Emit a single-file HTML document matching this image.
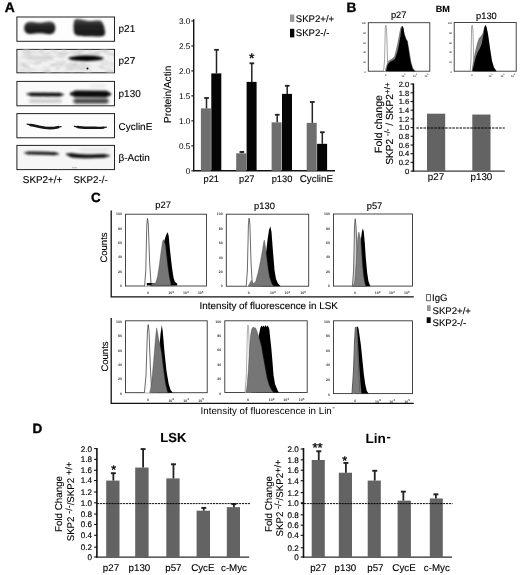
<!DOCTYPE html>
<html lang="en"><head><meta charset="utf-8"><title>Figure</title>
<style>html,body{margin:0;padding:0;background:#fff;}svg{display:block;font-family:'Liberation Sans', sans-serif;filter:blur(0.35px);text-rendering:geometricPrecision;}</style>
</head><body>
<svg width="520" height="575" viewBox="0 0 520 575">
<defs>
<filter id="b1" filterUnits="userSpaceOnUse" x="10" y="10" width="120" height="170"><feGaussianBlur stdDeviation="0.85"/></filter>
<filter id="b2" filterUnits="userSpaceOnUse" x="10" y="10" width="120" height="170"><feGaussianBlur stdDeviation="0.7"/></filter>
<filter id="b4" filterUnits="userSpaceOnUse" x="10" y="10" width="120" height="170"><feGaussianBlur stdDeviation="1.05"/></filter>
<filter id="b3" filterUnits="userSpaceOnUse" x="10" y="10" width="120" height="170"><feGaussianBlur stdDeviation="1.8"/></filter>
<filter id="soft" x="-5%" y="-5%" width="110%" height="110%"><feGaussianBlur stdDeviation="0.35"/></filter>
<linearGradient id="gb" x1="0" y1="0" x2="0" y2="1"><stop offset="0" stop-color="#505050"/><stop offset="0.35" stop-color="#262626"/><stop offset="1" stop-color="#161616"/></linearGradient>
<filter id="noise" x="0" y="0" width="100%" height="100%"><feTurbulence type="fractalNoise" baseFrequency="0.09 0.16" numOctaves="2" seed="7" result="t"/><feColorMatrix in="t" type="matrix" values="0 0 0 0 0.55  0 0 0 0 0.55  0 0 0 0 0.55  0 0 0 -1.6 0.95"/></filter>
</defs>
<rect width="520" height="575" fill="#fff"/>
<text x="4.7" y="11.8" font-size="13.9" text-anchor="start" font-weight="bold" fill="#000" stroke="#000" stroke-width="0.35">A</text>
<rect x="16.9" y="17.0" width="97.6" height="24.299999999999997" fill="#fdfdfd" stroke="#222" stroke-width="1"/>
<rect x="16.9" y="49.4" width="97.6" height="23.4" fill="#f1f1f1" stroke="#222" stroke-width="1"/>
<rect x="16.9" y="81.4" width="97.6" height="24.39999999999999" fill="#fafafa" stroke="#222" stroke-width="1"/>
<rect x="16.9" y="113.6" width="97.6" height="24.200000000000017" fill="#fcfcfc" stroke="#222" stroke-width="1"/>
<rect x="16.9" y="145.4" width="97.6" height="24.19999999999999" fill="#f6f6f6" stroke="#222" stroke-width="1"/>
<g filter="url(#b1)">
<path d="M24.2 28 C24.2 20.8 31 21.2 35 22.2 C38 22.8 42 22.8 45 22 C49 21 55.4 20.6 55.4 28 C55.4 35.2 49 34.6 45 33.8 C42 33.2 38 33.2 35 33.6 C31 34.4 24.2 35 24.2 28 Z" fill="url(#gb)"/>
<path d="M74.2 20.4 C76 17.6 83 19.6 87 20.8 C92 21.6 97 19.6 100.6 20.8 C103.4 22.4 104.4 27 105 31 C105.4 34 104.8 36 102 36.2 C97 36.6 92 36.2 87 36.2 C82 36.2 76.2 36.6 74.4 33.6 C73.2 30 73.2 25 74.2 20.4 Z" fill="url(#gb)"/>
</g>
<rect x="17.4" y="49.9" width="96.6" height="22.2" fill="#ddd" filter="url(#noise)"/>
<g filter="url(#b3)"><rect x="26" y="56" width="28" height="3.4" rx="1.7" fill="#cfcfcf"/><rect x="66" y="66" width="24" height="4" fill="#dadada"/></g>
<g filter="url(#b1)"><ellipse cx="86" cy="58.3" rx="17.6" ry="2.7" fill="#050505"/></g>
<circle cx="87.5" cy="68.5" r="0.95" fill="#111" filter="url(#b2)"/>
<g filter="url(#b3)"><rect x="29" y="99.4" width="33" height="3.2" rx="1.6" fill="#bdbdbd"/><rect x="73.5" y="98.6" width="35" height="5" rx="2" fill="#3c3c3c"/><rect x="90" y="84" width="16" height="4" fill="#ececec"/></g>
<g filter="url(#b1)">
<path d="M27.5 94.2 L63 94.6" fill="none" stroke="#111" stroke-width="1.8" stroke-linecap="round"/>
<path d="M31 94.4 L60 94.6" fill="none" stroke="#111" stroke-width="3.6" stroke-linecap="round"/>
<path d="M71.5 93.9 L109.6 94.1" fill="none" stroke="#070707" stroke-width="3.3" stroke-linecap="round"/>
<path d="M76 93.9 L105.6 94.1" fill="none" stroke="#070707" stroke-width="6.6" stroke-linecap="round"/>
</g>
<g filter="url(#b2)">
<path d="M27.2 124.2 C38 126 44 128.4 50 128.2 C55 128 58 127.2 61 126.6" fill="none" stroke="#141414" stroke-width="1.35" stroke-linecap="round"/>
<path d="M30.5 125 C38 126.2 44 128.4 50 128.2 C53.5 128.1 56 127.6 58 127.2" fill="none" stroke="#141414" stroke-width="2.7" stroke-linecap="round"/>
<path d="M74.4 126.4 C83 128.2 90 127.4 95 127.8 C100 128.2 103 127.8 106.4 127.2" fill="none" stroke="#181818" stroke-width="1.2" stroke-linecap="round"/>
<path d="M77.5 127 C83 128.2 90 127.4 95 127.8 C99 128.1 101 127.9 103.5 127.6" fill="none" stroke="#181818" stroke-width="2.4" stroke-linecap="round"/>
</g>
<g filter="url(#b3)"><rect x="80" y="148.5" width="28" height="3" fill="#e4e4e4"/></g>
<g filter="url(#b4)">
<path d="M25 152.8 C36 153.2 46 153 58.2 153.9" fill="none" stroke="#1c1c1c" stroke-width="1.6" stroke-linecap="round"/>
<path d="M28 153 C36 153.2 46 153 55 153.7" fill="none" stroke="#1c1c1c" stroke-width="3.2" stroke-linecap="round"/>
<path d="M67 154.2 C79 156.8 92 156.6 108.6 155.8" fill="none" stroke="#0c0c0c" stroke-width="1.95" stroke-linecap="round"/>
<path d="M70.5 155 C79 156.8 92 156.6 104.5 155.9" fill="none" stroke="#0c0c0c" stroke-width="3.9" stroke-linecap="round"/>
</g>
<rect x="72" y="167.4" width="5" height="0.8" fill="#aaa"/>
<text x="118.6" y="32.0" font-size="9.95" text-anchor="start" fill="#000"  stroke="#000" stroke-width="0.12">p21</text>
<text x="118.6" y="63.8" font-size="9.95" text-anchor="start" fill="#000"  stroke="#000" stroke-width="0.12">p27</text>
<text x="118.6" y="97.1" font-size="9.95" text-anchor="start" fill="#000"  stroke="#000" stroke-width="0.12">p130</text>
<text x="118.6" y="130.0" font-size="9.95" text-anchor="start" fill="#000"  stroke="#000" stroke-width="0.12">CyclinE</text>
<text x="118.6" y="161.2" font-size="9.95" text-anchor="start" fill="#000"  stroke="#000" stroke-width="0.12">β-Actin</text>
<text x="22.8" y="182.6" font-size="9.9" text-anchor="start" fill="#000"  stroke="#000" stroke-width="0.12">SKP2+/+</text>
<text x="73.4" y="182.6" font-size="9.8" text-anchor="start" fill="#000"  stroke="#000" stroke-width="0.12">SKP2-/-</text>
<path d="M193.7 19.2 V170.8 H335" fill="none" stroke="#111" stroke-width="1.4"/>
<line x1="191.29999999999998" x2="193.7" y1="170.8" y2="170.8" stroke="#111" stroke-width="1.1"/>
<text x="190.3" y="173.70000000000002" font-size="8.2" text-anchor="end" fill="#000" >0</text>
<line x1="191.29999999999998" x2="193.7" y1="145.83" y2="145.83" stroke="#111" stroke-width="1.1"/>
<text x="190.3" y="148.73000000000002" font-size="8.2" text-anchor="end" fill="#000" >0.5</text>
<line x1="191.29999999999998" x2="193.7" y1="120.85" y2="120.85" stroke="#111" stroke-width="1.1"/>
<text x="190.3" y="123.75" font-size="8.2" text-anchor="end" fill="#000" >1.0</text>
<line x1="191.29999999999998" x2="193.7" y1="95.88" y2="95.88" stroke="#111" stroke-width="1.1"/>
<text x="190.3" y="98.78" font-size="8.2" text-anchor="end" fill="#000" >1.5</text>
<line x1="191.29999999999998" x2="193.7" y1="70.9" y2="70.9" stroke="#111" stroke-width="1.1"/>
<text x="190.3" y="73.80000000000001" font-size="8.2" text-anchor="end" fill="#000" >2.0</text>
<line x1="191.29999999999998" x2="193.7" y1="45.93" y2="45.93" stroke="#111" stroke-width="1.1"/>
<text x="190.3" y="48.83" font-size="8.2" text-anchor="end" fill="#000" >2.5</text>
<line x1="191.29999999999998" x2="193.7" y1="20.95" y2="20.95" stroke="#111" stroke-width="1.1"/>
<text x="190.3" y="23.849999999999998" font-size="8.2" text-anchor="end" fill="#000" >3.0</text>
<rect x="200.9" y="108.36" width="10" height="62.44" fill="#6e6e6e"/>
<rect x="211.3" y="73.4" width="10" height="97.4" fill="#050505"/>
<path d="M206.5 108.36 V97.62" stroke="#222" stroke-width="1.5" fill="none"/>
<path d="M204.2 98.02 H208.9" stroke="#222" stroke-width="1.8" fill="none"/>
<path d="M216.5 73.4 V49.42" stroke="#222" stroke-width="1.5" fill="none"/>
<path d="M214.2 49.82 H218.9" stroke="#222" stroke-width="1.8" fill="none"/>
<rect x="236.2" y="153.32" width="10" height="17.48" fill="#6e6e6e"/>
<rect x="246.6" y="81.89" width="10" height="88.91" fill="#050505"/>
<path d="M241.8 153.32 V151.57" stroke="#222" stroke-width="1.5" fill="none"/>
<path d="M239.5 151.97 H244.2" stroke="#222" stroke-width="1.8" fill="none"/>
<path d="M251.8 81.89 V62.91" stroke="#222" stroke-width="1.5" fill="none"/>
<path d="M249.5 63.31 H254.2" stroke="#222" stroke-width="1.8" fill="none"/>
<rect x="271.6" y="122.35" width="10" height="48.45" fill="#6e6e6e"/>
<rect x="282.0" y="93.88" width="10" height="76.92" fill="#050505"/>
<path d="M277.2 122.35 V114.36" stroke="#222" stroke-width="1.5" fill="none"/>
<path d="M274.9 114.76 H279.6" stroke="#222" stroke-width="1.8" fill="none"/>
<path d="M287.2 93.88 V85.39" stroke="#222" stroke-width="1.5" fill="none"/>
<path d="M284.9 85.79 H289.6" stroke="#222" stroke-width="1.8" fill="none"/>
<rect x="306.7" y="122.85" width="10" height="47.95" fill="#6e6e6e"/>
<rect x="317.09999999999997" y="143.83" width="10" height="26.97" fill="#050505"/>
<path d="M312.3 122.85 V101.62" stroke="#222" stroke-width="1.5" fill="none"/>
<path d="M310.0 102.02 H314.7" stroke="#222" stroke-width="1.8" fill="none"/>
<path d="M322.3 143.83 V131.84" stroke="#222" stroke-width="1.5" fill="none"/>
<path d="M320.0 132.24 H324.7" stroke="#222" stroke-width="1.8" fill="none"/>
<text x="211.3" y="182.3" font-size="9.3" text-anchor="middle" fill="#000"  stroke="#000" stroke-width="0.12">p21</text>
<text x="246.8" y="182.3" font-size="9.3" text-anchor="middle" fill="#000"  stroke="#000" stroke-width="0.12">p27</text>
<text x="282" y="182.3" font-size="9.3" text-anchor="middle" fill="#000"  stroke="#000" stroke-width="0.12">p130</text>
<text x="316.4" y="181.6" font-size="9.8" text-anchor="middle" fill="#000"  stroke="#000" stroke-width="0.12">CyclinE</text>
<text x="251.8" y="63.4" font-size="14" text-anchor="middle" fill="#000" stroke="#000" stroke-width="0.4">*</text>
<text x="171.4" y="94.3" font-size="10.1" text-anchor="middle" transform="rotate(-90 171.4 94.3)" fill="#000"  stroke="#000" stroke-width="0.12">Protein/Actin</text>
<rect x="290" y="14.5" width="4.3" height="7.4" fill="#999"/>
<rect x="290" y="28.8" width="4.3" height="8.6" fill="#050505"/>
<text x="295.8" y="21.7" font-size="9.6" text-anchor="start" fill="#000"  stroke="#000" stroke-width="0.12">SKP2+/+</text>
<text x="295.8" y="36.3" font-size="9.6" text-anchor="start" fill="#000"  stroke="#000" stroke-width="0.12">SKP2-/-</text>
<text x="346.4" y="12.1" font-size="13.6" text-anchor="start" font-weight="bold" fill="#000" stroke="#000" stroke-width="0.35">B</text>
<text x="435.8" y="11.9" font-size="9.1" text-anchor="start" font-weight="bold" fill="#000"  stroke="#000" stroke-width="0.12">BM</text>
<text x="398.7" y="18.1" font-size="9.3" text-anchor="middle" fill="#000"  stroke="#000" stroke-width="0.12">p27</text>
<text x="486.4" y="19.0" font-size="9.3" text-anchor="middle" fill="#000"  stroke="#000" stroke-width="0.12">p130</text>
<rect x="368.3" y="22.7" width="61.5" height="48.5" fill="#fff" stroke="#333" stroke-width="0.9"/>
<text x="365.90000000000003" y="72.8" font-size="2.4" text-anchor="end" font-weight="bold" fill="#333" >0</text>
<text x="365.90000000000003" y="63.1" font-size="2.4" text-anchor="end" font-weight="bold" fill="#333" >20</text>
<text x="365.90000000000003" y="53.4" font-size="2.4" text-anchor="end" font-weight="bold" fill="#333" >40</text>
<text x="365.90000000000003" y="43.7" font-size="2.4" text-anchor="end" font-weight="bold" fill="#333" >60</text>
<text x="365.90000000000003" y="34.0" font-size="2.4" text-anchor="end" font-weight="bold" fill="#333" >80</text>
<text x="365.90000000000003" y="24.3" font-size="2.4" text-anchor="end" font-weight="bold" fill="#333" >100</text>
<text x="385.6" y="76.2" font-size="2.4" text-anchor="middle" font-weight="bold" fill="#333" >0</text>
<text x="403.5" y="76.8" font-size="2.4" font-weight="bold" text-anchor="middle" fill="#333">10<tspan dy="-1.5" font-size="2.04">3</tspan></text>
<text x="415" y="76.8" font-size="2.4" font-weight="bold" text-anchor="middle" fill="#333">10<tspan dy="-1.5" font-size="2.04">4</tspan></text>
<text x="426.5" y="76.8" font-size="2.4" font-weight="bold" text-anchor="middle" fill="#333">10<tspan dy="-1.5" font-size="2.04">5</tspan></text>
<g filter="url(#soft)">
<path d="M383.6 71.2 L384.6 60 L385.3 27 L385.9 25.2 L386.6 30 L387.6 62 L388.6 71.2" fill="#fff" stroke="#858585" stroke-width="0.75"/>
<path d="M385.0 71.2 L385.6 68 L386.9 64 L388.5 60.8 L391.8 58.8 L394.2 56.7 L395.9 50.1 L397.2 44.4 L398.8 36.2 L400.4 28.1 L401.6 26.1 L402.6 26 L404.4 33 L406.4 39 L407.8 41 L409.3 50 L411.3 62 L413.3 68.5 L415.5 71.2 Z" fill="#7c7c7c"/>
<path d="M386.0 71.2 L386.6 69 L387.7 64.4 L390.1 61.8 L393 60.2 L395 58.8 L397.2 52.6 L398.3 47.7 L399.5 41.2 L400.4 36.2 L401.3 28.4 L402.4 26.1 L403.5 28.1 L404.4 34.6 L406 39.2 L407.3 41.2 L408.4 47.7 L409.8 57.5 L410.9 63.2 L412.5 68.6 L414.7 70.8 L416 71.2 Z" fill="#050505"/>
</g>
<rect x="454.2" y="22.5" width="62.0" height="48.7" fill="#fff" stroke="#333" stroke-width="0.9"/>
<text x="451.8" y="72.8" font-size="2.4" text-anchor="end" font-weight="bold" fill="#333" >0</text>
<text x="451.8" y="63.06" font-size="2.4" text-anchor="end" font-weight="bold" fill="#333" >20</text>
<text x="451.8" y="53.32" font-size="2.4" text-anchor="end" font-weight="bold" fill="#333" >40</text>
<text x="451.8" y="43.58" font-size="2.4" text-anchor="end" font-weight="bold" fill="#333" >60</text>
<text x="451.8" y="33.84" font-size="2.4" text-anchor="end" font-weight="bold" fill="#333" >80</text>
<text x="451.8" y="24.1" font-size="2.4" text-anchor="end" font-weight="bold" fill="#333" >100</text>
<text x="472" y="76.2" font-size="2.4" text-anchor="middle" font-weight="bold" fill="#333" >0</text>
<text x="490.5" y="76.8" font-size="2.4" font-weight="bold" text-anchor="middle" fill="#333">10<tspan dy="-1.5" font-size="2.04">3</tspan></text>
<text x="502.5" y="76.8" font-size="2.4" font-weight="bold" text-anchor="middle" fill="#333">10<tspan dy="-1.5" font-size="2.04">4</tspan></text>
<text x="513" y="76.8" font-size="2.4" font-weight="bold" text-anchor="middle" fill="#333">10<tspan dy="-1.5" font-size="2.04">5</tspan></text>
<g filter="url(#soft)">
<path d="M470.2 71.2 L471 60 L471.6 27 L472.2 25.2 L472.9 30 L473.8 62 L474.6 71.2" fill="#fff" stroke="#858585" stroke-width="0.75"/>
<path d="M471.6 71.2 L473 62 L475 52 L477 43.5 L478.7 38.5 L480.5 36.5 L482.5 33.7 L484 28 L485.4 25 L487 30 L489 44 L491 58 L493 66 L496 71.2 Z" fill="#787878"/>
<path d="M472.4 71.2 L474 64 L476 56.5 L477.7 52 L479.5 49 L481.5 44.5 L483.2 36 L484.4 27.5 L485.4 25 L486.6 27 L488 34 L490 48 L492 61 L494 67.5 L496.6 71.2 Z" fill="#050505"/>
</g>
<path d="M412.59999999999997 171.1 H504.8" fill="none" stroke="#3a3a3a" stroke-width="1.1"/>
<path d="M413.4 83.4 V171.6" fill="none" stroke="#111" stroke-width="1.6"/>
<line x1="410.59999999999997" x2="413.4" y1="171.1" y2="171.1" stroke="#111" stroke-width="1.1"/>
<text x="409.2" y="173.79999999999998" font-size="7.6" text-anchor="end" fill="#000" stroke="#000" stroke-width="0.15">0</text>
<line x1="410.59999999999997" x2="413.4" y1="162.4" y2="162.4" stroke="#111" stroke-width="1.1"/>
<text x="409.2" y="165.1" font-size="7.6" text-anchor="end" fill="#000" stroke="#000" stroke-width="0.15">0.2</text>
<line x1="410.59999999999997" x2="413.4" y1="153.7" y2="153.7" stroke="#111" stroke-width="1.1"/>
<text x="409.2" y="156.39999999999998" font-size="7.6" text-anchor="end" fill="#000" stroke="#000" stroke-width="0.15">0.4</text>
<line x1="410.59999999999997" x2="413.4" y1="145.0" y2="145.0" stroke="#111" stroke-width="1.1"/>
<text x="409.2" y="147.7" font-size="7.6" text-anchor="end" fill="#000" stroke="#000" stroke-width="0.15">0.6</text>
<line x1="410.59999999999997" x2="413.4" y1="136.3" y2="136.3" stroke="#111" stroke-width="1.1"/>
<text x="409.2" y="139.0" font-size="7.6" text-anchor="end" fill="#000" stroke="#000" stroke-width="0.15">0.8</text>
<line x1="410.59999999999997" x2="413.4" y1="127.6" y2="127.6" stroke="#111" stroke-width="1.1"/>
<text x="409.2" y="130.29999999999998" font-size="7.6" text-anchor="end" fill="#000" stroke="#000" stroke-width="0.15">1.0</text>
<line x1="410.59999999999997" x2="413.4" y1="118.9" y2="118.9" stroke="#111" stroke-width="1.1"/>
<text x="409.2" y="121.60000000000001" font-size="7.6" text-anchor="end" fill="#000" stroke="#000" stroke-width="0.15">1.2</text>
<line x1="410.59999999999997" x2="413.4" y1="110.2" y2="110.2" stroke="#111" stroke-width="1.1"/>
<text x="409.2" y="112.9" font-size="7.6" text-anchor="end" fill="#000" stroke="#000" stroke-width="0.15">1.4</text>
<line x1="410.59999999999997" x2="413.4" y1="101.5" y2="101.5" stroke="#111" stroke-width="1.1"/>
<text x="409.2" y="104.2" font-size="7.6" text-anchor="end" fill="#000" stroke="#000" stroke-width="0.15">1.6</text>
<line x1="410.59999999999997" x2="413.4" y1="92.8" y2="92.8" stroke="#111" stroke-width="1.1"/>
<text x="409.2" y="95.5" font-size="7.6" text-anchor="end" fill="#000" stroke="#000" stroke-width="0.15">1.8</text>
<line x1="410.59999999999997" x2="413.4" y1="84.1" y2="84.1" stroke="#111" stroke-width="1.1"/>
<text x="409.2" y="86.8" font-size="7.6" text-anchor="end" fill="#000" stroke="#000" stroke-width="0.15">2.0</text>
<rect x="427" y="113.68" width="18.2" height="57.42" fill="#636363"/>
<rect x="472.3" y="114.55" width="18.2" height="56.55" fill="#636363"/>
<line x1="416.3" x2="504.8" y1="128.0" y2="128.0" stroke="#000" stroke-width="1.1" stroke-dasharray="2.6 1"/>
<text x="436" y="180.0" font-size="9.8" text-anchor="middle" fill="#000"  stroke="#000" stroke-width="0.12">p27</text>
<text x="481.4" y="180.0" font-size="9.8" text-anchor="middle" fill="#000"  stroke="#000" stroke-width="0.12">p130</text>
<text x="382.3" y="124" font-size="10.5" text-anchor="middle" transform="rotate(-90 382.3 124)" fill="#000"  stroke="#000" stroke-width="0.12">Fold change</text>
<text x="393.2" y="123.6" font-size="10.2" text-anchor="middle" transform="rotate(-90 393.2 123.6)" fill="#000" stroke="#000" stroke-width="0.12">SKP2 <tspan dy="-3.2" font-size="7.8">-/-</tspan><tspan dy="3.2"> / SKP2</tspan><tspan dy="-3.2" font-size="8">+/+</tspan></text>
<text x="90.9" y="202.0" font-size="13.4" text-anchor="start" font-weight="bold" fill="#000" stroke="#000" stroke-width="0.35">C</text>
<text x="163.1" y="208.0" font-size="9.4" text-anchor="middle" fill="#000"  stroke="#000" stroke-width="0.12">p27</text>
<text x="264.5" y="208.5" font-size="9.4" text-anchor="middle" fill="#000"  stroke="#000" stroke-width="0.12">p130</text>
<text x="374.5" y="208.6" font-size="9.3" text-anchor="middle" fill="#000"  stroke="#000" stroke-width="0.12">p57</text>
<path d="M111.2 210.5 V296.8 H413.8" fill="none" stroke="#111" stroke-width="1.3"/>
<path d="M111.2 318 V403.3 H413.8" fill="none" stroke="#111" stroke-width="1.3"/>
<text x="107.2" y="247.5" font-size="9.5" text-anchor="middle" transform="rotate(-90 107.2 247.5)" fill="#000"  stroke="#000" stroke-width="0.12">Counts</text>
<text x="108.3" y="356.5" font-size="9.5" text-anchor="middle" transform="rotate(-90 108.3 356.5)" fill="#000"  stroke="#000" stroke-width="0.12">Counts</text>
<text x="199.6" y="308.6" font-size="9.9" text-anchor="start" fill="#000"  stroke="#000" stroke-width="0.12">Intensity of fluorescence in LSK</text>
<text x="200.6" y="413.8" font-size="9.75" fill="#000">Intensity of fluorescence in Lin<tspan dy="-3.4" dx="0.4" font-size="8">-</tspan></text>
<rect x="125.5" y="214.2" width="81.0" height="71.8" fill="#fff" stroke="#333" stroke-width="0.9"/>
<text x="121.9" y="287.1" font-size="3.5" text-anchor="end" font-weight="bold" fill="#333" >0</text>
<text x="121.9" y="272.74" font-size="3.5" text-anchor="end" font-weight="bold" fill="#333" >20</text>
<text x="121.9" y="258.38" font-size="3.5" text-anchor="end" font-weight="bold" fill="#333" >40</text>
<text x="121.9" y="244.02" font-size="3.5" text-anchor="end" font-weight="bold" fill="#333" >60</text>
<text x="121.9" y="229.66" font-size="3.5" text-anchor="end" font-weight="bold" fill="#333" >80</text>
<text x="121.9" y="215.3" font-size="3.5" text-anchor="end" font-weight="bold" fill="#333" >100</text>
<text x="148" y="293.6" font-size="3.5" text-anchor="middle" font-weight="bold" fill="#333" >0</text>
<text x="171.0" y="294.2" font-size="3.5" font-weight="bold" text-anchor="middle" fill="#333">10<tspan dy="-1.5" font-size="2.98">3</tspan></text>
<text x="185.8" y="294.2" font-size="3.5" font-weight="bold" text-anchor="middle" fill="#333">10<tspan dy="-1.5" font-size="2.98">4</tspan></text>
<text x="200.7" y="294.2" font-size="3.5" font-weight="bold" text-anchor="middle" fill="#333">10<tspan dy="-1.5" font-size="2.98">5</tspan></text>
<rect x="226.3" y="214.2" width="82.4" height="72.0" fill="#fff" stroke="#333" stroke-width="0.9"/>
<text x="222.70000000000002" y="287.3" font-size="3.5" text-anchor="end" font-weight="bold" fill="#333" >0</text>
<text x="222.70000000000002" y="272.9" font-size="3.5" text-anchor="end" font-weight="bold" fill="#333" >20</text>
<text x="222.70000000000002" y="258.5" font-size="3.5" text-anchor="end" font-weight="bold" fill="#333" >40</text>
<text x="222.70000000000002" y="244.1" font-size="3.5" text-anchor="end" font-weight="bold" fill="#333" >60</text>
<text x="222.70000000000002" y="229.7" font-size="3.5" text-anchor="end" font-weight="bold" fill="#333" >80</text>
<text x="222.70000000000002" y="215.3" font-size="3.5" text-anchor="end" font-weight="bold" fill="#333" >100</text>
<text x="248.8" y="293.8" font-size="3.5" text-anchor="middle" font-weight="bold" fill="#333" >0</text>
<text x="272.8" y="294.4" font-size="3.5" font-weight="bold" text-anchor="middle" fill="#333">10<tspan dy="-1.5" font-size="2.98">3</tspan></text>
<text x="287.3" y="294.4" font-size="3.5" font-weight="bold" text-anchor="middle" fill="#333">10<tspan dy="-1.5" font-size="2.98">4</tspan></text>
<text x="303" y="294.4" font-size="3.5" font-weight="bold" text-anchor="middle" fill="#333">10<tspan dy="-1.5" font-size="2.98">5</tspan></text>
<rect x="333.5" y="214.0" width="79.0" height="72.1" fill="#fff" stroke="#333" stroke-width="0.9"/>
<text x="329.9" y="287.2" font-size="3.5" text-anchor="end" font-weight="bold" fill="#333" >0</text>
<text x="329.9" y="272.78" font-size="3.5" text-anchor="end" font-weight="bold" fill="#333" >20</text>
<text x="329.9" y="258.36" font-size="3.5" text-anchor="end" font-weight="bold" fill="#333" >40</text>
<text x="329.9" y="243.94" font-size="3.5" text-anchor="end" font-weight="bold" fill="#333" >60</text>
<text x="329.9" y="229.52" font-size="3.5" text-anchor="end" font-weight="bold" fill="#333" >80</text>
<text x="329.9" y="215.1" font-size="3.5" text-anchor="end" font-weight="bold" fill="#333" >100</text>
<text x="355" y="293.7" font-size="3.5" text-anchor="middle" font-weight="bold" fill="#333" >0</text>
<text x="377.5" y="294.3" font-size="3.5" font-weight="bold" text-anchor="middle" fill="#333">10<tspan dy="-1.5" font-size="2.98">3</tspan></text>
<text x="391.8" y="294.3" font-size="3.5" font-weight="bold" text-anchor="middle" fill="#333">10<tspan dy="-1.5" font-size="2.98">4</tspan></text>
<text x="406.8" y="294.3" font-size="3.5" font-weight="bold" text-anchor="middle" fill="#333">10<tspan dy="-1.5" font-size="2.98">5</tspan></text>
<rect x="125.5" y="320.8" width="81.7" height="71.9" fill="#fff" stroke="#333" stroke-width="0.9"/>
<text x="121.9" y="394.7" font-size="3.5" text-anchor="end" font-weight="bold" fill="#333" >0</text>
<text x="121.9" y="380.32" font-size="3.5" text-anchor="end" font-weight="bold" fill="#333" >20</text>
<text x="121.9" y="365.94" font-size="3.5" text-anchor="end" font-weight="bold" fill="#333" >40</text>
<text x="121.9" y="351.56" font-size="3.5" text-anchor="end" font-weight="bold" fill="#333" >60</text>
<text x="121.9" y="337.18" font-size="3.5" text-anchor="end" font-weight="bold" fill="#333" >80</text>
<text x="121.9" y="322.8" font-size="3.5" text-anchor="end" font-weight="bold" fill="#333" >100</text>
<text x="148" y="401.02" font-size="3.5" text-anchor="middle" font-weight="bold" fill="#333" >0</text>
<text x="171.2" y="401.62" font-size="3.5" font-weight="bold" text-anchor="middle" fill="#333">10<tspan dy="-1.5" font-size="2.98">3</tspan></text>
<text x="186.0" y="401.62" font-size="3.5" font-weight="bold" text-anchor="middle" fill="#333">10<tspan dy="-1.5" font-size="2.98">4</tspan></text>
<text x="201.0" y="401.62" font-size="3.5" font-weight="bold" text-anchor="middle" fill="#333">10<tspan dy="-1.5" font-size="2.98">5</tspan></text>
<rect x="224.8" y="320.8" width="82.4" height="71.7" fill="#fff" stroke="#333" stroke-width="0.9"/>
<text x="221.20000000000002" y="394.5" font-size="3.5" text-anchor="end" font-weight="bold" fill="#333" >0</text>
<text x="221.20000000000002" y="380.16" font-size="3.5" text-anchor="end" font-weight="bold" fill="#333" >20</text>
<text x="221.20000000000002" y="365.82" font-size="3.5" text-anchor="end" font-weight="bold" fill="#333" >40</text>
<text x="221.20000000000002" y="351.48" font-size="3.5" text-anchor="end" font-weight="bold" fill="#333" >60</text>
<text x="221.20000000000002" y="337.14" font-size="3.5" text-anchor="end" font-weight="bold" fill="#333" >80</text>
<text x="221.20000000000002" y="322.8" font-size="3.5" text-anchor="end" font-weight="bold" fill="#333" >100</text>
<text x="248" y="400.82" font-size="3.5" text-anchor="middle" font-weight="bold" fill="#333" >0</text>
<text x="271.6" y="401.42" font-size="3.5" font-weight="bold" text-anchor="middle" fill="#333">10<tspan dy="-1.5" font-size="2.98">3</tspan></text>
<text x="286" y="401.42" font-size="3.5" font-weight="bold" text-anchor="middle" fill="#333">10<tspan dy="-1.5" font-size="2.98">4</tspan></text>
<text x="301.5" y="401.42" font-size="3.5" font-weight="bold" text-anchor="middle" fill="#333">10<tspan dy="-1.5" font-size="2.98">5</tspan></text>
<rect x="333.5" y="320.8" width="79.0" height="72.8" fill="#fff" stroke="#333" stroke-width="0.9"/>
<text x="329.9" y="395.6" font-size="3.5" text-anchor="end" font-weight="bold" fill="#333" >0</text>
<text x="329.9" y="381.04" font-size="3.5" text-anchor="end" font-weight="bold" fill="#333" >20</text>
<text x="329.9" y="366.48" font-size="3.5" text-anchor="end" font-weight="bold" fill="#333" >40</text>
<text x="329.9" y="351.92" font-size="3.5" text-anchor="end" font-weight="bold" fill="#333" >60</text>
<text x="329.9" y="337.36" font-size="3.5" text-anchor="end" font-weight="bold" fill="#333" >80</text>
<text x="329.9" y="322.8" font-size="3.5" text-anchor="end" font-weight="bold" fill="#333" >100</text>
<text x="355.3" y="401.92" font-size="3.5" text-anchor="middle" font-weight="bold" fill="#333" >0</text>
<text x="377.8" y="402.52" font-size="3.5" font-weight="bold" text-anchor="middle" fill="#333">10<tspan dy="-1.5" font-size="2.98">3</tspan></text>
<text x="392.0" y="402.52" font-size="3.5" font-weight="bold" text-anchor="middle" fill="#333">10<tspan dy="-1.5" font-size="2.98">4</tspan></text>
<text x="407.0" y="402.52" font-size="3.5" font-weight="bold" text-anchor="middle" fill="#333">10<tspan dy="-1.5" font-size="2.98">5</tspan></text>
<g filter="url(#soft)">
<path d="M144.6 286.2 L145.8 270 L146.8 225 L147.5 218.4 L148.3 224 L149.6 262 L151.2 286.2" fill="#fff" stroke="#2a2a2a" stroke-width="0.7"/>
<path d="M146.8 285.6 V283 H151.5 L156 283.4 L160 270 L162.5 250 L164.5 240 L166.3 234.5 L167.8 232.2 L168.7 236 L169.8 248 L171 259 L172.2 269 L173.6 278 L175 282 L177.2 283.4 V285.6 Z" fill="#050505"/>
<path d="M151.6 285.4 V283.6 L155.6 283.2 L157.5 277 L159.2 266 L161 252 L162.4 243 L163.2 239.6 L164.4 242 L165.4 245 L166.6 256 L168 268 L169.3 277 L170.6 283 L171 285.4 Z" fill="#767676" stroke="#333" stroke-width="0.35"/>
<path d="M246.2 286.2 L247.4 270 L248.4 225 L249.1 218.2 L249.9 224 L251 262 L252.4 286.2" fill="#fff" stroke="#2a2a2a" stroke-width="0.7"/>
<path d="M262 286.2 L265 262 L267.5 240 L269 230 L270.3 226.2 L271.5 232 L273 252 L274.5 270 L276 279 L278 283.6 L280.5 286.2 Z" fill="#050505"/>
<path d="M248 286.2 L249.5 284 L251.3 280.4 L253 283.5 L255.5 282 L258 273 L260.5 261 L262.5 250 L263.7 242 L264.4 240.2 L265.3 246 L266.5 256 L268 268 L269.5 277 L271.5 283 L273.5 286.2 Z" fill="#767676" stroke="#333" stroke-width="0.35"/>
<path d="M352.4 286.2 L353.6 270 L354.5 226 L355.2 218.8 L356 226 L357 250 L358 286.2 Z" fill="#d4d4d4" stroke="#333" stroke-width="0.7"/>
<path d="M358 286.2 L359.5 262 L360.8 240 L362 231 L362.9 228.4 L363.8 232 L364.8 243 L365.8 258 L367.2 273 L368.4 281 L369.8 285 L370.4 286.2 Z" fill="#050505"/>
<path d="M353.4 286.2 L354.8 281 L356.2 262 L357.4 242 L358.3 234 L358.9 232 L359.8 236 L360.8 240 L361.6 252 L362.4 264 L363.4 275 L364.6 282 L365.6 286.2 Z" fill="#7e7e7e" stroke="#333" stroke-width="0.35"/>
<path d="M144.4 392.7 L146 376 L147.4 332 L148.2 324.6 L149 331 L150.4 368 L151.8 392.7" fill="#fff" stroke="#2a2a2a" stroke-width="0.7"/>
<path d="M157 392.7 L159 352 L160.5 334 L161.8 325 L162.8 332 L164.5 352 L166.5 371 L168.7 384 L170.6 390 L173 392.7 Z" fill="#050505"/>
<path d="M149.7 392.7 L151.5 384 L153.5 362 L155 344 L156 333 L156.7 327.8 L157.6 333 L158.6 339 L160 345 L161.5 353 L163.5 370 L165.5 384 L167.7 392.7 Z" fill="#767676" stroke="#333" stroke-width="0.35"/>
<path d="M245 392.5 L246.3 376 L247.4 332 L248 325 L248.7 331 L249.6 360 L250.8 392.5" fill="#fff" stroke="#8c8c8c" stroke-width="0.7"/>
<path d="M256 392.5 L258 340 L260.3 328 L261.5 325.6 L262.5 327 L263.5 325.4 L264.5 327 L265.5 325 L266.5 327 L267.5 325.6 L268.5 327 L269.3 329 L270.2 338 L271.3 348 L272.5 362 L273.5 375 L275 384 L277.7 390.4 L279 392.5 Z" fill="#050505"/>
<path d="M246 392.5 L247 386 L248.2 372 L249.3 352 L250.5 336 L251.6 329.5 L252.6 327.6 L253.6 327 L254.6 328.2 L255.6 327.8 L256.8 331 L258.2 335 L260 341 L261.5 347 L263 356 L265 367 L267 378 L269.2 385.6 L271.5 390 L273.5 392.5 Z" fill="#767676" stroke="#333" stroke-width="0.35"/>
<path d="M355.4 393.6 L356 340 L356.6 327.2 L357.8 326.4 L358.6 329 L359.6 336 L360.9 345 L362.2 358 L363.8 374 L365.2 384 L366.8 391 L368.6 393.6 Z" fill="#050505"/>
<path d="M352.2 393.6 L353.6 372 L354.8 340 L355.5 327.4 L356.4 326.2 L357 328 L357.8 340 L359 362 L360.4 382 L361.4 393.6 Z" fill="#7c7c7c"/>
<path d="M352 393.4 L353.4 372 L354.6 340 L355.4 327" fill="none" stroke="#222" stroke-width="0.7"/>
<path d="M356.8 330 L357.8 352 L359 378 L359.8 392" fill="none" stroke="#444" stroke-width="0.5"/>
</g>
<rect x="426.7" y="294.6" width="3.6" height="6.2" fill="#fff" stroke="#222" stroke-width="0.7"/>
<rect x="427" y="305.2" width="3.7" height="5.8" fill="#999"/>
<rect x="426.7" y="317.3" width="4" height="5.7" fill="#050505"/>
<text x="432" y="301.4" font-size="9.6" text-anchor="start" fill="#000"  stroke="#000" stroke-width="0.12">IgG</text>
<text x="432.5" y="313.6" font-size="9.6" text-anchor="start" fill="#000"  stroke="#000" stroke-width="0.12">SKP2+/+</text>
<text x="432.5" y="325.5" font-size="9.6" text-anchor="start" fill="#000"  stroke="#000" stroke-width="0.12">SKP2-/-</text>
<text x="32.4" y="432.6" font-size="13.5" text-anchor="start" font-weight="bold" fill="#000" stroke="#000" stroke-width="0.35">D</text>
<path d="M96.10000000000001 557.0 H249.2" fill="none" stroke="#2a2a2a" stroke-width="1.25"/>
<path d="M96.9 448.0 V557.6" fill="none" stroke="#111" stroke-width="1.6"/>
<line x1="94.10000000000001" x2="96.9" y1="557.0" y2="557.0" stroke="#111" stroke-width="1.1"/>
<text x="92.10000000000001" y="559.9" font-size="8.1" text-anchor="end" fill="#000" stroke="#000" stroke-width="0.15">0</text>
<line x1="94.10000000000001" x2="96.9" y1="547.16" y2="547.16" stroke="#111" stroke-width="1.1"/>
<text x="92.10000000000001" y="550.06" font-size="8.1" text-anchor="end" fill="#000" stroke="#000" stroke-width="0.15">0.2</text>
<line x1="94.10000000000001" x2="96.9" y1="535.32" y2="535.32" stroke="#111" stroke-width="1.1"/>
<text x="92.10000000000001" y="538.22" font-size="8.1" text-anchor="end" fill="#000" stroke="#000" stroke-width="0.15">0.4</text>
<line x1="94.10000000000001" x2="96.9" y1="524.48" y2="524.48" stroke="#111" stroke-width="1.1"/>
<text x="92.10000000000001" y="527.38" font-size="8.1" text-anchor="end" fill="#000" stroke="#000" stroke-width="0.15">0.6</text>
<line x1="94.10000000000001" x2="96.9" y1="514.04" y2="514.04" stroke="#111" stroke-width="1.1"/>
<text x="92.10000000000001" y="516.94" font-size="8.1" text-anchor="end" fill="#000" stroke="#000" stroke-width="0.15">0.8</text>
<line x1="94.10000000000001" x2="96.9" y1="502.8" y2="502.8" stroke="#111" stroke-width="1.1"/>
<text x="92.10000000000001" y="505.7" font-size="8.1" text-anchor="end" fill="#000" stroke="#000" stroke-width="0.15">1.0</text>
<line x1="94.10000000000001" x2="96.9" y1="491.96" y2="491.96" stroke="#111" stroke-width="1.1"/>
<text x="92.10000000000001" y="494.86" font-size="8.1" text-anchor="end" fill="#000" stroke="#000" stroke-width="0.15">1.2</text>
<line x1="94.10000000000001" x2="96.9" y1="480.52" y2="480.52" stroke="#111" stroke-width="1.1"/>
<text x="92.10000000000001" y="483.42" font-size="8.1" text-anchor="end" fill="#000" stroke="#000" stroke-width="0.15">1.4</text>
<line x1="94.10000000000001" x2="96.9" y1="470.28" y2="470.28" stroke="#111" stroke-width="1.1"/>
<text x="92.10000000000001" y="473.18" font-size="8.1" text-anchor="end" fill="#000" stroke="#000" stroke-width="0.15">1.6</text>
<line x1="94.10000000000001" x2="96.9" y1="459.44" y2="459.44" stroke="#111" stroke-width="1.1"/>
<text x="92.10000000000001" y="462.34" font-size="8.1" text-anchor="end" fill="#000" stroke="#000" stroke-width="0.15">1.8</text>
<line x1="94.10000000000001" x2="96.9" y1="448.6" y2="448.6" stroke="#111" stroke-width="1.1"/>
<text x="92.10000000000001" y="451.5" font-size="8.1" text-anchor="end" fill="#000" stroke="#000" stroke-width="0.15">2.0</text>
<rect x="106.2" y="480.58" width="13.3" height="76.42" fill="#636363"/>
<path d="M113.35 480.58 V472.72" stroke="#222" stroke-width="1.8" fill="none"/>
<path d="M110.85 473.22 H115.85" stroke="#222" stroke-width="1.9" fill="none"/>
<rect x="135.2" y="467.57" width="13.4" height="89.43" fill="#636363"/>
<path d="M143.1 467.57 V448.6" stroke="#222" stroke-width="1.8" fill="none"/>
<path d="M140.6 449.1 H145.6" stroke="#222" stroke-width="1.9" fill="none"/>
<rect x="166.3" y="478.41" width="13.3" height="78.59" fill="#636363"/>
<path d="M173.45 478.41 V463.78" stroke="#222" stroke-width="1.8" fill="none"/>
<path d="M170.95 464.28 H175.95" stroke="#222" stroke-width="1.9" fill="none"/>
<rect x="196.6" y="510.66" width="13.4" height="46.34" fill="#636363"/>
<path d="M203.8 510.66 V507.41" stroke="#222" stroke-width="1.8" fill="none"/>
<path d="M201.3 507.91 H206.3" stroke="#222" stroke-width="1.9" fill="none"/>
<rect x="226.8" y="507.14" width="13.2" height="49.86" fill="#636363"/>
<path d="M233.9 507.14 V503.61" stroke="#222" stroke-width="1.8" fill="none"/>
<path d="M231.4 504.11 H236.4" stroke="#222" stroke-width="1.9" fill="none"/>
<line x1="97" x2="250.2" y1="503.6" y2="503.6" stroke="#000" stroke-width="0.95" stroke-dasharray="2.1 0.8"/>
<text x="111.0" y="570.5" font-size="9.75" text-anchor="middle" fill="#000"  stroke="#000" stroke-width="0.12">p27</text>
<text x="139.4" y="570.5" font-size="9.75" text-anchor="middle" fill="#000"  stroke="#000" stroke-width="0.12">p130</text>
<text x="173.4" y="570.5" font-size="9.75" text-anchor="middle" fill="#000"  stroke="#000" stroke-width="0.12">p57</text>
<text x="202.8" y="570.5" font-size="9.75" text-anchor="middle" fill="#000"  stroke="#000" stroke-width="0.12">CycE</text>
<text x="234.0" y="570.5" font-size="9.75" text-anchor="middle" fill="#000"  stroke="#000" stroke-width="0.12">c-Myc</text>
<text x="173.3" y="442" font-size="13" text-anchor="middle" font-weight="bold" fill="#000"  stroke="#000" stroke-width="0.12">LSK</text>
<text x="113.7" y="473.8" font-size="12.5" text-anchor="middle" fill="#000" stroke="#000" stroke-width="0.35">*</text>
<text x="61.9" y="504" font-size="9.8" text-anchor="middle" transform="rotate(-90 61.9 504)" fill="#000"  stroke="#000" stroke-width="0.12">Fold Change</text>
<text x="74.2" y="501.6" font-size="9.7" text-anchor="middle" transform="rotate(-90 74.2 501.6)" fill="#000" stroke="#000" stroke-width="0.12">SKP2 <tspan dy="-2.2" font-size="9">-/-</tspan><tspan dy="2.2">/SKP2 </tspan><tspan dy="-2" font-size="9.2">+/+</tspan></text>
<path d="M302.7 557.0 H452" fill="none" stroke="#2a2a2a" stroke-width="1.25"/>
<path d="M303.5 448.0 V557.6" fill="none" stroke="#111" stroke-width="1.6"/>
<line x1="300.7" x2="303.5" y1="557.0" y2="557.0" stroke="#111" stroke-width="1.1"/>
<text x="298.7" y="559.9" font-size="8.1" text-anchor="end" fill="#000" stroke="#000" stroke-width="0.15">0</text>
<line x1="300.7" x2="303.5" y1="547.76" y2="547.76" stroke="#111" stroke-width="1.1"/>
<text x="298.7" y="550.66" font-size="8.1" text-anchor="end" fill="#000" stroke="#000" stroke-width="0.15">0.2</text>
<line x1="300.7" x2="303.5" y1="535.32" y2="535.32" stroke="#111" stroke-width="1.1"/>
<text x="298.7" y="538.22" font-size="8.1" text-anchor="end" fill="#000" stroke="#000" stroke-width="0.15">0.4</text>
<line x1="300.7" x2="303.5" y1="525.18" y2="525.18" stroke="#111" stroke-width="1.1"/>
<text x="298.7" y="528.08" font-size="8.1" text-anchor="end" fill="#000" stroke="#000" stroke-width="0.15">0.6</text>
<line x1="300.7" x2="303.5" y1="514.84" y2="514.84" stroke="#111" stroke-width="1.1"/>
<text x="298.7" y="517.74" font-size="8.1" text-anchor="end" fill="#000" stroke="#000" stroke-width="0.15">0.8</text>
<line x1="300.7" x2="303.5" y1="502.8" y2="502.8" stroke="#111" stroke-width="1.1"/>
<text x="298.7" y="505.7" font-size="8.1" text-anchor="end" fill="#000" stroke="#000" stroke-width="0.15">1.0</text>
<line x1="300.7" x2="303.5" y1="492.66" y2="492.66" stroke="#111" stroke-width="1.1"/>
<text x="298.7" y="495.56" font-size="8.1" text-anchor="end" fill="#000" stroke="#000" stroke-width="0.15">1.2</text>
<line x1="300.7" x2="303.5" y1="480.72" y2="480.72" stroke="#111" stroke-width="1.1"/>
<text x="298.7" y="483.62" font-size="8.1" text-anchor="end" fill="#000" stroke="#000" stroke-width="0.15">1.4</text>
<line x1="300.7" x2="303.5" y1="470.28" y2="470.28" stroke="#111" stroke-width="1.1"/>
<text x="298.7" y="473.18" font-size="8.1" text-anchor="end" fill="#000" stroke="#000" stroke-width="0.15">1.6</text>
<line x1="300.7" x2="303.5" y1="459.84" y2="459.84" stroke="#111" stroke-width="1.1"/>
<text x="298.7" y="462.74" font-size="8.1" text-anchor="end" fill="#000" stroke="#000" stroke-width="0.15">1.8</text>
<line x1="300.7" x2="303.5" y1="449.0" y2="449.0" stroke="#111" stroke-width="1.1"/>
<text x="298.7" y="451.9" font-size="8.1" text-anchor="end" fill="#000" stroke="#000" stroke-width="0.15">2.0</text>
<rect x="311.7" y="459.98" width="13.1" height="97.02" fill="#636363"/>
<path d="M318.75 459.98 V450.77" stroke="#222" stroke-width="1.8" fill="none"/>
<path d="M316.25 451.27 H321.25" stroke="#222" stroke-width="1.9" fill="none"/>
<rect x="338.8" y="472.72" width="13.2" height="84.28" fill="#636363"/>
<path d="M345.9 472.72 V462.42" stroke="#222" stroke-width="1.8" fill="none"/>
<path d="M343.4 462.92 H348.4" stroke="#222" stroke-width="1.9" fill="none"/>
<rect x="367.7" y="480.58" width="13.1" height="76.42" fill="#636363"/>
<path d="M374.75 480.58 V470.28" stroke="#222" stroke-width="1.8" fill="none"/>
<path d="M372.25 470.78 H377.25" stroke="#222" stroke-width="1.9" fill="none"/>
<rect x="397.6" y="500.63" width="13.3" height="56.37" fill="#636363"/>
<path d="M403.35 500.63 V491.15" stroke="#222" stroke-width="1.8" fill="none"/>
<path d="M400.85 491.65 H405.85" stroke="#222" stroke-width="1.9" fill="none"/>
<rect x="429.8" y="498.46" width="13.0" height="58.54" fill="#636363"/>
<path d="M435.9 498.46 V493.86" stroke="#222" stroke-width="1.8" fill="none"/>
<path d="M433.4 494.36 H438.4" stroke="#222" stroke-width="1.9" fill="none"/>
<line x1="301" x2="452.6" y1="503.6" y2="503.6" stroke="#000" stroke-width="0.95" stroke-dasharray="2.1 0.8"/>
<text x="318.3" y="570.5" font-size="9.75" text-anchor="middle" fill="#000"  stroke="#000" stroke-width="0.12">p27</text>
<text x="345.4" y="570.5" font-size="9.75" text-anchor="middle" fill="#000"  stroke="#000" stroke-width="0.12">p130</text>
<text x="375.4" y="570.5" font-size="9.75" text-anchor="middle" fill="#000"  stroke="#000" stroke-width="0.12">p57</text>
<text x="404.0" y="570.5" font-size="9.75" text-anchor="middle" fill="#000"  stroke="#000" stroke-width="0.12">CycE</text>
<text x="436.8" y="570.5" font-size="9.75" text-anchor="middle" fill="#000"  stroke="#000" stroke-width="0.12">c-Myc</text>
<text x="365.4" y="442.6" font-size="13.6" font-weight="bold" fill="#000">Lin<tspan dy="-1.6" dx="0.6" font-size="13">-</tspan></text>
<text x="317.6" y="452.2" font-size="13" text-anchor="middle" fill="#000" stroke="#000" stroke-width="0.35">**</text>
<text x="344.8" y="464.6" font-size="12.5" text-anchor="middle" fill="#000" stroke="#000" stroke-width="0.35">*</text>
<text x="271.8" y="504" font-size="9.8" text-anchor="middle" transform="rotate(-90 271.8 504)" fill="#000"  stroke="#000" stroke-width="0.12">Fold Change</text>
<text x="283" y="498" font-size="9.7" text-anchor="middle" transform="rotate(-90 283 498)" fill="#000" stroke="#000" stroke-width="0.12">SKP2 <tspan dy="-2.2" font-size="9">-/-</tspan><tspan dy="2.2">/SKP2</tspan><tspan dy="-2" font-size="9.2">+/+</tspan></text>
</svg>
</body></html>
